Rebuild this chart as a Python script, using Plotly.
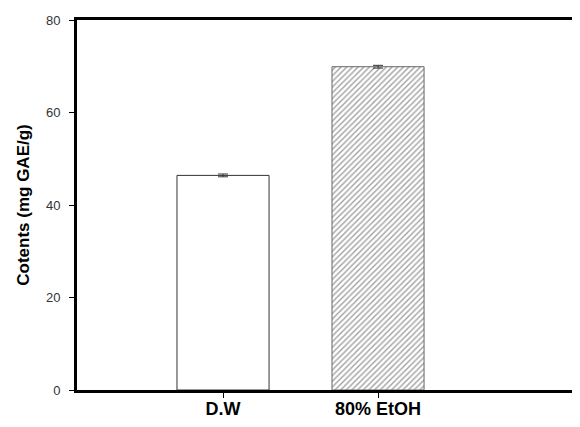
import plotly.graph_objects as go

categories = ["D.W", "80% EtOH"]
values = [46.4, 69.9]
errors = [0.3, 0.3]
y_ticks = [0, 20, 40, 60, 80]

fig = go.Figure()
fig.add_trace(go.Bar(
    x=[0, 1], y=values,
    width=0.594,
    error_y=dict(type="data", array=errors, visible=True, color="#333", thickness=1, width=5),
    marker=dict(
        color=["white", "white"],
        line=dict(color=["#333333", "#666666"], width=1),
        pattern=dict(shape=["", "/"], size=4, solidity=0.35, fgcolor="#444444", bgcolor="white"),
    ),
))

# page body has an 8px default margin; size the figure so the page does not overflow the window
fig.update_layout(
    width=572, height=411,
    margin=dict(l=69, r=0, t=12, b=29),
    plot_bgcolor="white", paper_bgcolor="white",
    showlegend=False,
    font=dict(family="Arial, Liberation Sans", color="#222"),
)
fig.update_xaxes(
    range=[-0.942, 2.303],
    tickvals=[0, 1], ticktext=[f"<b>{c}</b>" for c in categories],
    tickfont=dict(size=18, color="black"),
    ticks="outside", ticklen=5, tickcolor="black", tickwidth=1,
    ticklabelstandoff=-5,
    showline=True, linecolor="black", linewidth=3, mirror=True,
    showgrid=False, zeroline=False, automargin=False,
)
fig.update_yaxes(
    range=[0, 80], tickvals=y_ticks,
    tickfont=dict(size=13, color="#333"),
    ticks="outside", ticklen=5, tickcolor="black", tickwidth=1,
    ticklabelstandoff=6,
    showline=True, linecolor="black", linewidth=3,
    showgrid=False, zeroline=False, automargin=False,
    title=dict(text="<b>Cotents (mg GAE/g)</b>", font=dict(size=17, color="black"), standoff=12),
)
fig.write_html("out.html")
